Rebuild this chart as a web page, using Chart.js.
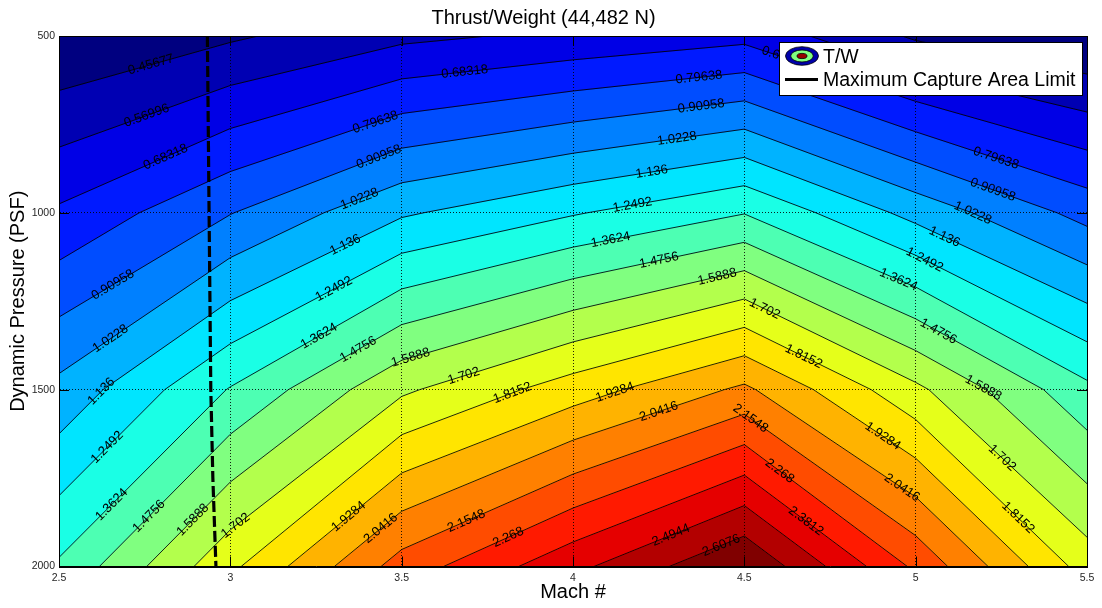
<!DOCTYPE html>
<html>
<head>
<meta charset="utf-8">
<title>Thrust/Weight (44,482 N)</title>
<script src="https://cdn.jsdelivr.net/npm/chart.js@4.4.1/dist/chart.umd.min.js"></script>
<style>
  html, body { margin: 0; padding: 0; background: #fff; }
</style>
</head>
<body>
<canvas id="twChart" width="1102" height="608"></canvas>
<script>
// T/W table: one row per dynamic pressure, one column per Mach number
const machValues = [2.5, 3, 3.5, 4, 4.5, 5, 5.5];
const pressureValues = [500, 1000, 1500, 2000];
const twAt500  = [0.348, 0.44, 0.543, 0.5965, 0.650, 0.44, 0.3436];
const twAt1000 = [0.701, 0.905, 1.121, 1.2395, 1.358, 1.098, 0.87];
const twAt1500 = [1.055, 1.37, 1.682, 1.873, 2.064, 1.728, 1.39];
const twAt2000 = [1.379, 1.789, 2.205, 2.463, 2.7208, 2.245, 1.764];

const contourLevels = [0.45677, 0.56996, 0.68318, 0.79638, 0.90958, 1.0228, 1.136, 1.2492,
  1.3624, 1.4756, 1.5888, 1.702, 1.8152, 1.9284, 2.0416, 2.1548, 2.268, 2.3812, 2.4944, 2.6076];

const machTicks = [2.5, 3, 3.5, 4, 4.5, 5, 5.5];
const pressureTicks = [500, 1000, 1500, 2000];

// Maximum capture area limit
const limitMach = [2.933, 2.938, 2.943, 2.949, 2.958];
const limitPressure = [500, 1000, 1500, 1750, 2000];

// where the inline contour labels sit (level, rough Mach, rough pressure)
const labelLevels = [0.45677, 0.56996, 0.68318, 0.90958, 1.0228, 1.136, 1.2492, 1.3624, 1.4756, 1.5888, 1.702,
  0.79638, 0.90958, 1.0228, 1.136, 1.2492, 1.3624, 1.4756, 1.5888, 1.702, 1.8152,
  1.9284, 2.0416, 2.1548, 2.268, 1.9284, 2.0416, 2.4944, 2.6076, 2.1548, 2.268, 2.3812,
  0.68318, 0.79638, 0.90958, 1.0228, 1.136, 1.2492, 1.3624, 1.4756, 1.5888, 1.702, 1.8152,
  0.68318, 0.79638, 0.90958, 1.0228, 1.136, 1.2492, 1.3624, 1.4756, 1.5888, 1.9284, 2.0416, 1.702, 1.8152];
const labelMach = [2.771, 2.766, 2.824, 2.663, 2.663, 2.628, 2.649, 2.658, 2.774, 2.906, 3.028,
  3.428, 3.437, 3.378, 3.343, 3.311, 3.262, 3.378, 3.530, 3.685, 3.822,
  3.349, 3.443, 3.694, 3.816, 4.128, 4.254, 4.289, 4.438, 4.502, 4.595, 4.671,
  3.685, 4.368, 4.374, 4.303, 4.231, 4.172, 4.114, 4.254, 4.423, 4.554, 4.671,
  4.62, 5.231, 5.223, 5.164, 5.083, 5.018, 4.937, 5.056, 5.194, 4.887, 4.940, 5.246, 5.290];
const labelPressure = [590, 752, 870, 1213, 1374, 1509, 1671, 1829, 1869, 1883, 1900,
  757, 851, 964, 1105, 1232, 1354, 1394, 1422, 1473, 1507,
  1863, 1897, 1883, 1928, 1524, 1572, 1919, 1953, 1603, 1741, 1883,
  613, 619, 698, 788, 893, 969, 1097, 1148, 1190, 1283, 1410,
  552, 856, 941, 1006, 1071, 1148, 1218, 1354, 1501, 1656, 1806, 1699, 1871];

const twGrid = [twAt500, twAt1000, twAt1500, twAt2000];

Chart.defaults.font.family = '"Liberation Sans", Arial, Helvetica, sans-serif';
Chart.defaults.color = '#000';

function jet(t) {
  const c = v => Math.round(255 * Math.max(0, Math.min(1, v)));
  return 'rgb(' + c(1.5 - Math.abs(4 * t - 3)) + ',' + c(1.5 - Math.abs(4 * t - 2)) + ',' + c(1.5 - Math.abs(4 * t - 1)) + ')';
}

function cellCorners(i, j) {
  return [
    {x: machValues[i], y: pressureValues[j], z: twGrid[j][i]},
    {x: machValues[i + 1], y: pressureValues[j], z: twGrid[j][i + 1]},
    {x: machValues[i + 1], y: pressureValues[j + 1], z: twGrid[j + 1][i + 1]},
    {x: machValues[i], y: pressureValues[j + 1], z: twGrid[j + 1][i]}
  ];
}

function cross(a, b, level) {
  const t = (level - a.z) / (b.z - a.z);
  return {x: a.x + t * (b.x - a.x), y: a.y + t * (b.y - a.y), z: level};
}

// keep the part of a cell polygon above (or below) a level
function clipPoly(poly, level, keepAbove) {
  const out = [];
  const inside = p => keepAbove ? p.z >= level : p.z <= level;
  for (let k = 0; k < poly.length; k++) {
    const cur = poly[k];
    const prev = poly[(k + poly.length - 1) % poly.length];
    if (inside(cur)) {
      if (!inside(prev)) out.push(cross(prev, cur, level));
      out.push(cur);
    } else if (inside(prev)) {
      out.push(cross(prev, cur, level));
    }
  }
  return out;
}

// filled bands
const bandCount = contourLevels.length + 1;
const bandSets = [];
for (let j = 0; j < pressureValues.length - 1; j++) {
  for (let i = 0; i < machValues.length - 1; i++) {
    for (let k = 0; k < bandCount; k++) {
      let poly = cellCorners(i, j);
      if (k > 0) poly = clipPoly(poly, contourLevels[k - 1], true);
      if (k < bandCount - 1 && poly.length) poly = clipPoly(poly, contourLevels[k], false);
      if (poly.length < 3) continue;
      const color = jet(k / (bandCount - 1));
      const pts = poly.map(p => ({x: p.x, y: p.y}));
      pts.push({x: poly[0].x, y: poly[0].y});
      bandSets.push({
        data: pts, showLine: true, fill: 'shape',
        backgroundColor: color, borderColor: color, borderWidth: 1,
        pointRadius: 0
      });
    }
  }
}

// contour lines
function cellSegments(cell, level) {
  const pts = [];
  for (let e = 0; e < 4; e++) {
    const a = cell[e], b = cell[(e + 1) % 4];
    if ((a.z < level) !== (b.z < level)) pts.push(cross(a, b, level));
  }
  if (pts.length === 2) return [[pts[0], pts[1]]];
  if (pts.length === 4) {
    const mid = (cell[0].z + cell[1].z + cell[2].z + cell[3].z) / 4;
    return (mid < level) === (cell[0].z < level)
      ? [[pts[0], pts[1]], [pts[2], pts[3]]]
      : [[pts[3], pts[0]], [pts[1], pts[2]]];
  }
  return [];
}

function chainSegments(segs) {
  const key = p => p.x.toFixed(5) + ',' + p.y.toFixed(2);
  const used = segs.map(() => false);
  const lines = [];
  for (let s = 0; s < segs.length; s++) {
    if (used[s]) continue;
    used[s] = true;
    const line = [segs[s][0], segs[s][1]];
    let grown = true;
    while (grown) {
      grown = false;
      for (let t = 0; t < segs.length; t++) {
        if (used[t]) continue;
        const [p, q] = segs[t];
        const head = key(line[0]), tail = key(line[line.length - 1]);
        if (key(p) === tail) line.push(q);
        else if (key(q) === tail) line.push(p);
        else if (key(q) === head) line.unshift(p);
        else if (key(p) === head) line.unshift(q);
        else continue;
        used[t] = true;
        grown = true;
      }
    }
    lines.push(line);
  }
  return lines;
}

const levelLines = {};
const lineSets = [];
contourLevels.forEach(level => {
  const segs = [];
  for (let j = 0; j < pressureValues.length - 1; j++) {
    for (let i = 0; i < machValues.length - 1; i++) {
      segs.push(...cellSegments(cellCorners(i, j), level));
    }
  }
  const lines = chainSegments(segs);
  levelLines[level] = lines;
  lines.forEach(line => {
    lineSets.push({
      data: line.map(p => ({x: p.x, y: p.y})), showLine: true, fill: false,
      borderColor: '#000', borderWidth: 0.85, pointRadius: 0
    });
  });
});

const limitSet = {
  label: 'Maximum Capture Area Limit',
  data: limitMach.map((m, i) => ({x: m, y: limitPressure[i]})),
  showLine: true, fill: false, borderColor: '#000', borderWidth: 3.2,
  borderDash: [11, 4], pointRadius: 0
};

// inline labels, rotated along their contour line
const contourLabels = {
  id: 'contourLabels',
  afterDatasetsDraw(chart) {
    const {ctx, scales: {x, y}} = chart;
    ctx.save();
    ctx.font = '13px "Liberation Sans", Arial, sans-serif';
    ctx.fillStyle = '#000';
    ctx.textAlign = 'center';
    ctx.textBaseline = 'middle';
    labelLevels.forEach((level, n) => {
      const ax = x.getPixelForValue(labelMach[n]);
      const ay = y.getPixelForValue(labelPressure[n]);
      let best = null;
      (levelLines[level] || []).forEach(line => {
        for (let s = 0; s < line.length - 1; s++) {
          const x1 = x.getPixelForValue(line[s].x), y1 = y.getPixelForValue(line[s].y);
          const x2 = x.getPixelForValue(line[s + 1].x), y2 = y.getPixelForValue(line[s + 1].y);
          const dx = x2 - x1, dy = y2 - y1;
          const len2 = dx * dx + dy * dy || 1;
          const t = Math.max(0, Math.min(1, ((ax - x1) * dx + (ay - y1) * dy) / len2));
          const px = x1 + t * dx, py = y1 + t * dy;
          const d = (px - ax) * (px - ax) + (py - ay) * (py - ay);
          if (!best || d < best.d) best = {d, px, py, angle: Math.atan2(dy, dx)};
        }
      });
      if (!best) return;
      let angle = best.angle;
      if (angle > Math.PI / 2) angle -= Math.PI;
      if (angle < -Math.PI / 2) angle += Math.PI;
      ctx.save();
      ctx.translate(best.px, best.py);
      ctx.rotate(angle);
      ctx.fillText(String(level), 0, 0);
      ctx.restore();
    });
    ctx.restore();
  }
};

// box round the axes, inward ticks, legend
const axesBox = {
  id: 'axesBox',
  afterDraw(chart) {
    const {ctx, chartArea: a, scales: {x, y}} = chart;
    ctx.save();
    ctx.strokeStyle = '#000';
    ctx.lineWidth = 1;
    ctx.beginPath();
    machTicks.forEach(v => {
      const px = Math.round(x.getPixelForValue(v)) + 0.5;
      ctx.moveTo(px, a.bottom); ctx.lineTo(px, a.bottom - 10);
      ctx.moveTo(px, a.top); ctx.lineTo(px, a.top + 10);
    });
    pressureTicks.forEach(v => {
      const py = Math.round(y.getPixelForValue(v)) + 0.5;
      ctx.moveTo(a.left, py); ctx.lineTo(a.left + 10, py);
      ctx.moveTo(a.right, py); ctx.lineTo(a.right - 10, py);
    });
    ctx.stroke();
    ctx.strokeRect(Math.round(a.left) + 0.5, Math.round(a.top) + 0.5,
      Math.round(a.right - a.left), Math.round(a.bottom - a.top));

    // legend
    const lx = a.right - 308, ly = a.top + 6, lw = 303, lh = 53;
    ctx.fillStyle = '#fff';
    ctx.fillRect(lx, ly, lw, lh);
    ctx.lineWidth = 1;
    ctx.strokeRect(lx + 0.5, ly + 0.5, lw, lh);
    const cx = lx + 23, cy = ly + 14;
    [[16.5, 9.3, 'rgb(0,0,170)'], [11.3, 6, 'rgb(128,255,128)'], [5, 2.6, 'rgb(150,0,0)']].forEach(([rx, ry, col]) => {
      ctx.beginPath();
      ctx.ellipse(cx, cy, rx, ry, 0, 0, Math.PI * 2);
      ctx.fillStyle = col;
      ctx.fill();
      ctx.lineWidth = 0.8;
      ctx.stroke();
    });
    ctx.beginPath();
    ctx.lineWidth = 3;
    ctx.moveTo(lx + 6, ly + 37.5);
    ctx.lineTo(lx + 39, ly + 37.5);
    ctx.stroke();
    ctx.fillStyle = '#000';
    ctx.font = '19.5px "Liberation Sans", Arial, sans-serif';
    ctx.textAlign = 'left';
    ctx.textBaseline = 'middle';
    ctx.fillText('T/W', lx + 44, ly + 16);
    ctx.fillText(limitSet.label, lx + 44, ly + 39);
    ctx.restore();
  }
};

const gridStyle = {color: 'rgba(0,0,0,0.85)', lineWidth: 1, drawTicks: false, z: 1};
const borderStyle = {display: true, color: '#000', width: 1, dash: [1, 2], z: 1};

new Chart(document.getElementById('twChart'), {
  type: 'scatter',
  data: {datasets: [limitSet, ...lineSets, ...bandSets]},
  options: {
    responsive: false,
    animation: false,
    devicePixelRatio: 1,
    events: [],
    layout: {padding: {left: 0, right: 15, top: 0, bottom: 0}},
    elements: {point: {radius: 0, hoverRadius: 0}, line: {tension: 0}},
    plugins: {
      legend: {display: false},
      tooltip: {enabled: false},
      title: {
        display: true,
        text: 'Thrust/Weight (44,482 N)',
        color: '#000',
        font: {size: 20, weight: 'normal'},
        padding: {top: 6.3, bottom: 5.7}
      }
    },
    scales: {
      x: {
        type: 'linear', min: 2.5, max: 5.5,
        afterBuildTicks: s => { s.ticks = machTicks.map(v => ({value: v})); },
        afterFit: s => { s.height = 41.5; },
        ticks: {font: {size: 10.5}, color: '#262626', padding: 5, maxRotation: 0, autoSkip: false, callback: v => String(v)},
        grid: gridStyle,
        border: borderStyle,
        title: {display: true, text: 'Mach #', color: '#000', font: {size: 20}, padding: {top: 0, bottom: 3.6}}
      },
      y: {
        type: 'linear', min: 500, max: 2000, reverse: true,
        afterBuildTicks: s => { s.ticks = pressureTicks.map(v => ({value: v})); },
        afterFit: s => { s.width = 59; },
        ticks: {font: {size: 10.5}, color: '#262626', padding: 4, autoSkip: false, callback: v => String(v)},
        grid: gridStyle,
        border: borderStyle,
        title: {display: true, text: 'Dynamic Pressure (PSF)', color: '#000', font: {size: 20}, padding: {top: 6, bottom: 0}}
      }
    }
  },
  plugins: [contourLabels, axesBox]
});
</script>
</body>
</html>
